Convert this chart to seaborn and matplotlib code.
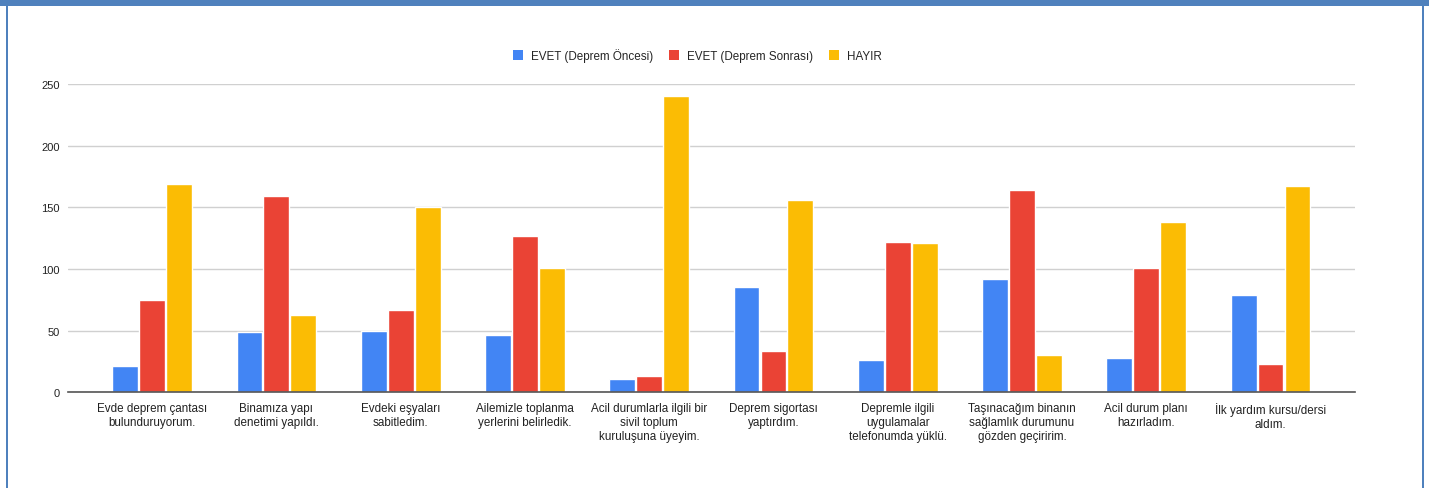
import pandas as pd
import matplotlib
matplotlib.use("Agg")
import matplotlib.pyplot as plt
import seaborn as sns
from matplotlib.patches import Rectangle, Patch

# ------------------------------
# Data
# ------------------------------
questions = [
    "Evde deprem çantası\nbulunduruyorum.",
    "Binamıza yapı\ndenetimi yapıldı.",
    "Evdeki eşyaları\nsabitledim.",
    "Ailemizle toplanma\nyerlerini belirledik.",
    "Acil durumlarla ilgili bir\nsivil toplum\nkuruluşuna üyeyim.",
    "Deprem sigortası\nyaptırdım.",
    "Depremle ilgili\nuygulamalar\ntelefonumda yüklü.",
    "Taşınacağım binanın\nsağlamlık durumunu\ngözden geçiririm.",
    "Acil durum planı\nhazırladım.",
    "İlk yardım kursu/dersi\naldım.",
]
series_names = ["EVET (Deprem Öncesi)", "EVET (Deprem Sonrası)", "HAYIR"]
evet_once = [21, 49, 50, 46, 11, 85, 26, 92, 28, 79]
evet_sonra = [75, 159, 67, 127, 13, 33, 122, 164, 101, 23]
hayir = [169, 63, 150, 101, 240, 156, 121, 30, 138, 167]
colors = ["#4285F4", "#EA4335", "#FBBC04"]

df = pd.DataFrame({
    "soru": questions * 3,
    "seri": [s for s in series_names for _ in questions],
    "deger": evet_once + evet_sonra + hayir,
})

# ------------------------------
# Plot
# ------------------------------
sns.set_theme(style="white")
plt.rcParams["font.family"] = ["Liberation Sans", "DejaVu Sans"]

fig = plt.figure(figsize=(14.29, 4.89), dpi=100)
ax = fig.add_axes([0.0476, 0.196, 0.9004, 0.630])

sns.barplot(data=df, x="soru", y="deger", hue="seri", hue_order=series_names,
            palette=colors, width=0.65, gap=0.04, saturation=1,
            ax=ax, legend=False, zorder=3)

ax.set_ylim(0, 250)
ax.set_xlim(-0.677, 9.677)
ax.set_yticks([0, 50, 100, 150, 200, 250])
ax.yaxis.grid(True, color="#d0d0d0", linewidth=1, zorder=0)
ax.set_axisbelow(True)
for s in ["top", "right", "left"]:
    ax.spines[s].set_visible(False)
ax.spines["bottom"].set_color("#555555")
ax.spines["bottom"].set_linewidth(1.2)
ax.spines["bottom"].set_zorder(4)
ax.tick_params(axis="both", length=0, labelsize=8.4, colors="#222222")
ax.tick_params(axis="y", labelsize=8)
ax.tick_params(axis="x", pad=7)
ax.tick_params(axis="y", pad=6)
for lab in ax.get_xticklabels():
    lab.set_linespacing(1.22)
ax.set_xlabel("")
ax.set_ylabel("")

handles = [Patch(facecolor=c, edgecolor="none") for c in colors]
fig.legend(handles, series_names, loc="center", bbox_to_anchor=(0.488, 0.885),
           ncol=3, frameon=False, fontsize=8.4, handlelength=0.9, handleheight=0.9,
           columnspacing=1.3, handletextpad=0.7)

# frame of the original page
fig.patches.append(Rectangle((0, 1 - 7 / 489), 1, 7 / 489, transform=fig.transFigure,
                             facecolor="#4F81BD", edgecolor="none", zorder=10))
for x in [6 / 1429, 1422 / 1429]:
    fig.patches.append(Rectangle((x, 0), 1.5 / 1429, 1, transform=fig.transFigure,
                                 facecolor="#4F81BD", edgecolor="none", zorder=10))

fig.savefig("out.png", dpi=100, facecolor="white")
